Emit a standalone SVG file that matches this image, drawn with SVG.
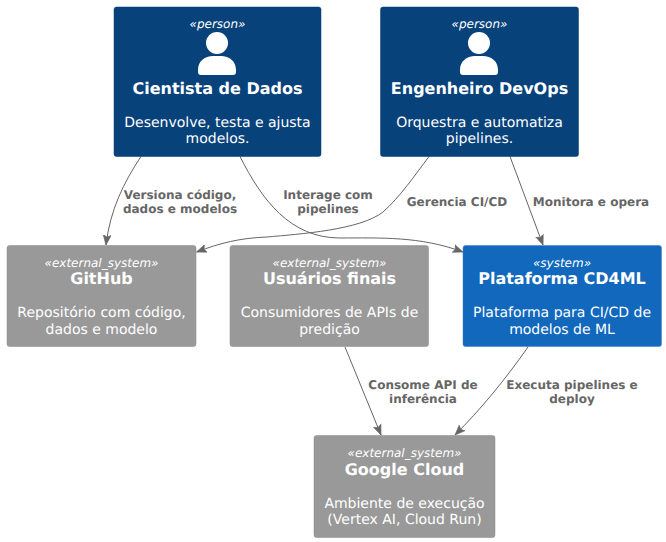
<svg xmlns="http://www.w3.org/2000/svg" width="666" height="542" viewBox="0 0 666 542">
<defs>
<style>
text{font-family:"DejaVu Sans",sans-serif;text-anchor:middle;text-rendering:geometricPrecision}
.box{stroke-width:.5}
.person{fill:#08427B;stroke:#073B6F}
.sys{fill:#1168BD;stroke:#3C7FC0}
.ext{fill:#999999;stroke:#8A8A8A}
.st{font-size:12px;font-style:italic;fill:#fff}
.ti{font-size:16px;font-weight:bold;fill:#fff}
.de{font-size:14px;fill:#fff}
.ic{fill:#fff}
.lk{fill:none;stroke:#666;stroke-width:1}
.lb{font-size:12px;font-weight:bold;fill:#666}
</style>
<marker id="arr" viewBox="0 0 11 10" refX="10" refY="5" markerWidth="11" markerHeight="10" markerUnits="userSpaceOnUse" orient="auto"><path d="M0,1L10,5L0,9L2,5Z" fill="#666" stroke="#666" stroke-width=".6"/></marker>
</defs>
<g id="connectors">
<path class="lk" marker-end="url(#arr)" d="M141,156.500C124,182 110,210 106,245"/>
<path class="lk" marker-end="url(#arr)" d="M240,156.500C262,200 290,238 340,238C380,238 420,236 463,252"/>
<path class="lk" marker-end="url(#arr)" d="M429,156.500C415,175 400,197 383,212C360,230 300,234 267,237C240,238 220,243 196.500,252"/>
<path class="lk" marker-end="url(#arr)" d="M510,156.500L543,245"/>
<path class="lk" marker-end="url(#arr)" d="M345,347L381,435"/>
<path class="lk" marker-end="url(#arr)" d="M528,347C505,380 480,410 455,435"/>
<text class="lb" x="180" y="199">Versiona código,</text>
<text class="lb" x="180" y="213">dados e modelos</text>
<text class="lb" x="328" y="199">Interage com</text>
<text class="lb" x="328" y="213">pipelines</text>
<text class="lb" x="457" y="206">Gerencia CI/CD</text>
<text class="lb" x="591" y="206">Monitora e opera</text>
<text class="lb" x="423" y="389">Consome API de</text>
<text class="lb" x="423" y="403">inferência</text>
<text class="lb" x="572" y="389">Executa pipelines e</text>
<text class="lb" x="572" y="403">deploy</text>
</g>
<g id="cientista">
<rect class="box person" x="114" y="7" width="207" height="149.500" rx="2.500"/>
<text class="st" x="217.500" y="28">«person»</text>
<circle class="ic" cx="217" cy="43" r="11"/>
<path class="ic" d="M198,75V70C198,61 205,56 213,56H221C229,56 236,61 236,70V72C236,74 235,75 233,75H201C199,75 198,74 198,72Z"/>
<text class="ti" x="217.500" y="94">Cientista de Dados</text>
<text class="de" x="217.500" y="127">Desenvolve, testa e ajusta</text>
<text class="de" x="217.500" y="143">modelos.</text>
</g>
<g id="devops">
<rect class="box person" x="380.500" y="7" width="198" height="149.500" rx="2.500"/>
<text class="st" x="479.500" y="28">«person»</text>
<circle class="ic" cx="479" cy="43" r="11"/>
<path class="ic" d="M460,75V70C460,61 467,56 475,56H483C491,56 498,61 498,70V72C498,74 497,75 495,75H463C461,75 460,74 460,72Z"/>
<text class="ti" x="479.500" y="94">Engenheiro DevOps</text>
<text class="de" x="479.500" y="127">Orquestra e automatiza</text>
<text class="de" x="479.500" y="143">pipelines.</text>
</g>
<g id="github">
<rect class="box ext" x="7" y="245.500" width="189" height="101" rx="2.500"/>
<text class="st" x="101.500" y="267">«external_system»</text>
<text class="ti" x="101.500" y="284">GitHub</text>
<text class="de" x="101.500" y="317">Repositório com código,</text>
<text class="de" x="101.500" y="334">dados e modelo</text>
</g>
<g id="usuarios">
<rect class="box ext" x="230" y="245.500" width="198.500" height="101" rx="2.500"/>
<text class="st" x="329.500" y="267">«external_system»</text>
<text class="ti" x="329.500" y="284">Usuários finais</text>
<text class="de" x="329.500" y="317">Consumidores de APIs de</text>
<text class="de" x="329.500" y="334">predição</text>
</g>
<g id="cd4ml">
<rect class="box sys" x="463" y="245.500" width="198.500" height="101" rx="2.500"/>
<text class="st" x="562" y="267">«system»</text>
<text class="ti" x="562" y="284">Plataforma CD4ML</text>
<text class="de" x="562" y="317">Plataforma para CI/CD de</text>
<text class="de" x="562" y="334">modelos de ML</text>
</g>
<g id="google">
<rect class="box ext" x="314" y="435.500" width="181" height="102" rx="2.500"/>
<text class="st" x="404.500" y="457">«external_system»</text>
<text class="ti" x="404.500" y="475">Google Cloud</text>
<text class="de" x="404.500" y="508">Ambiente de execução</text>
<text class="de" x="404.500" y="524">(Vertex AI, Cloud Run)</text>
</g>
</svg>
